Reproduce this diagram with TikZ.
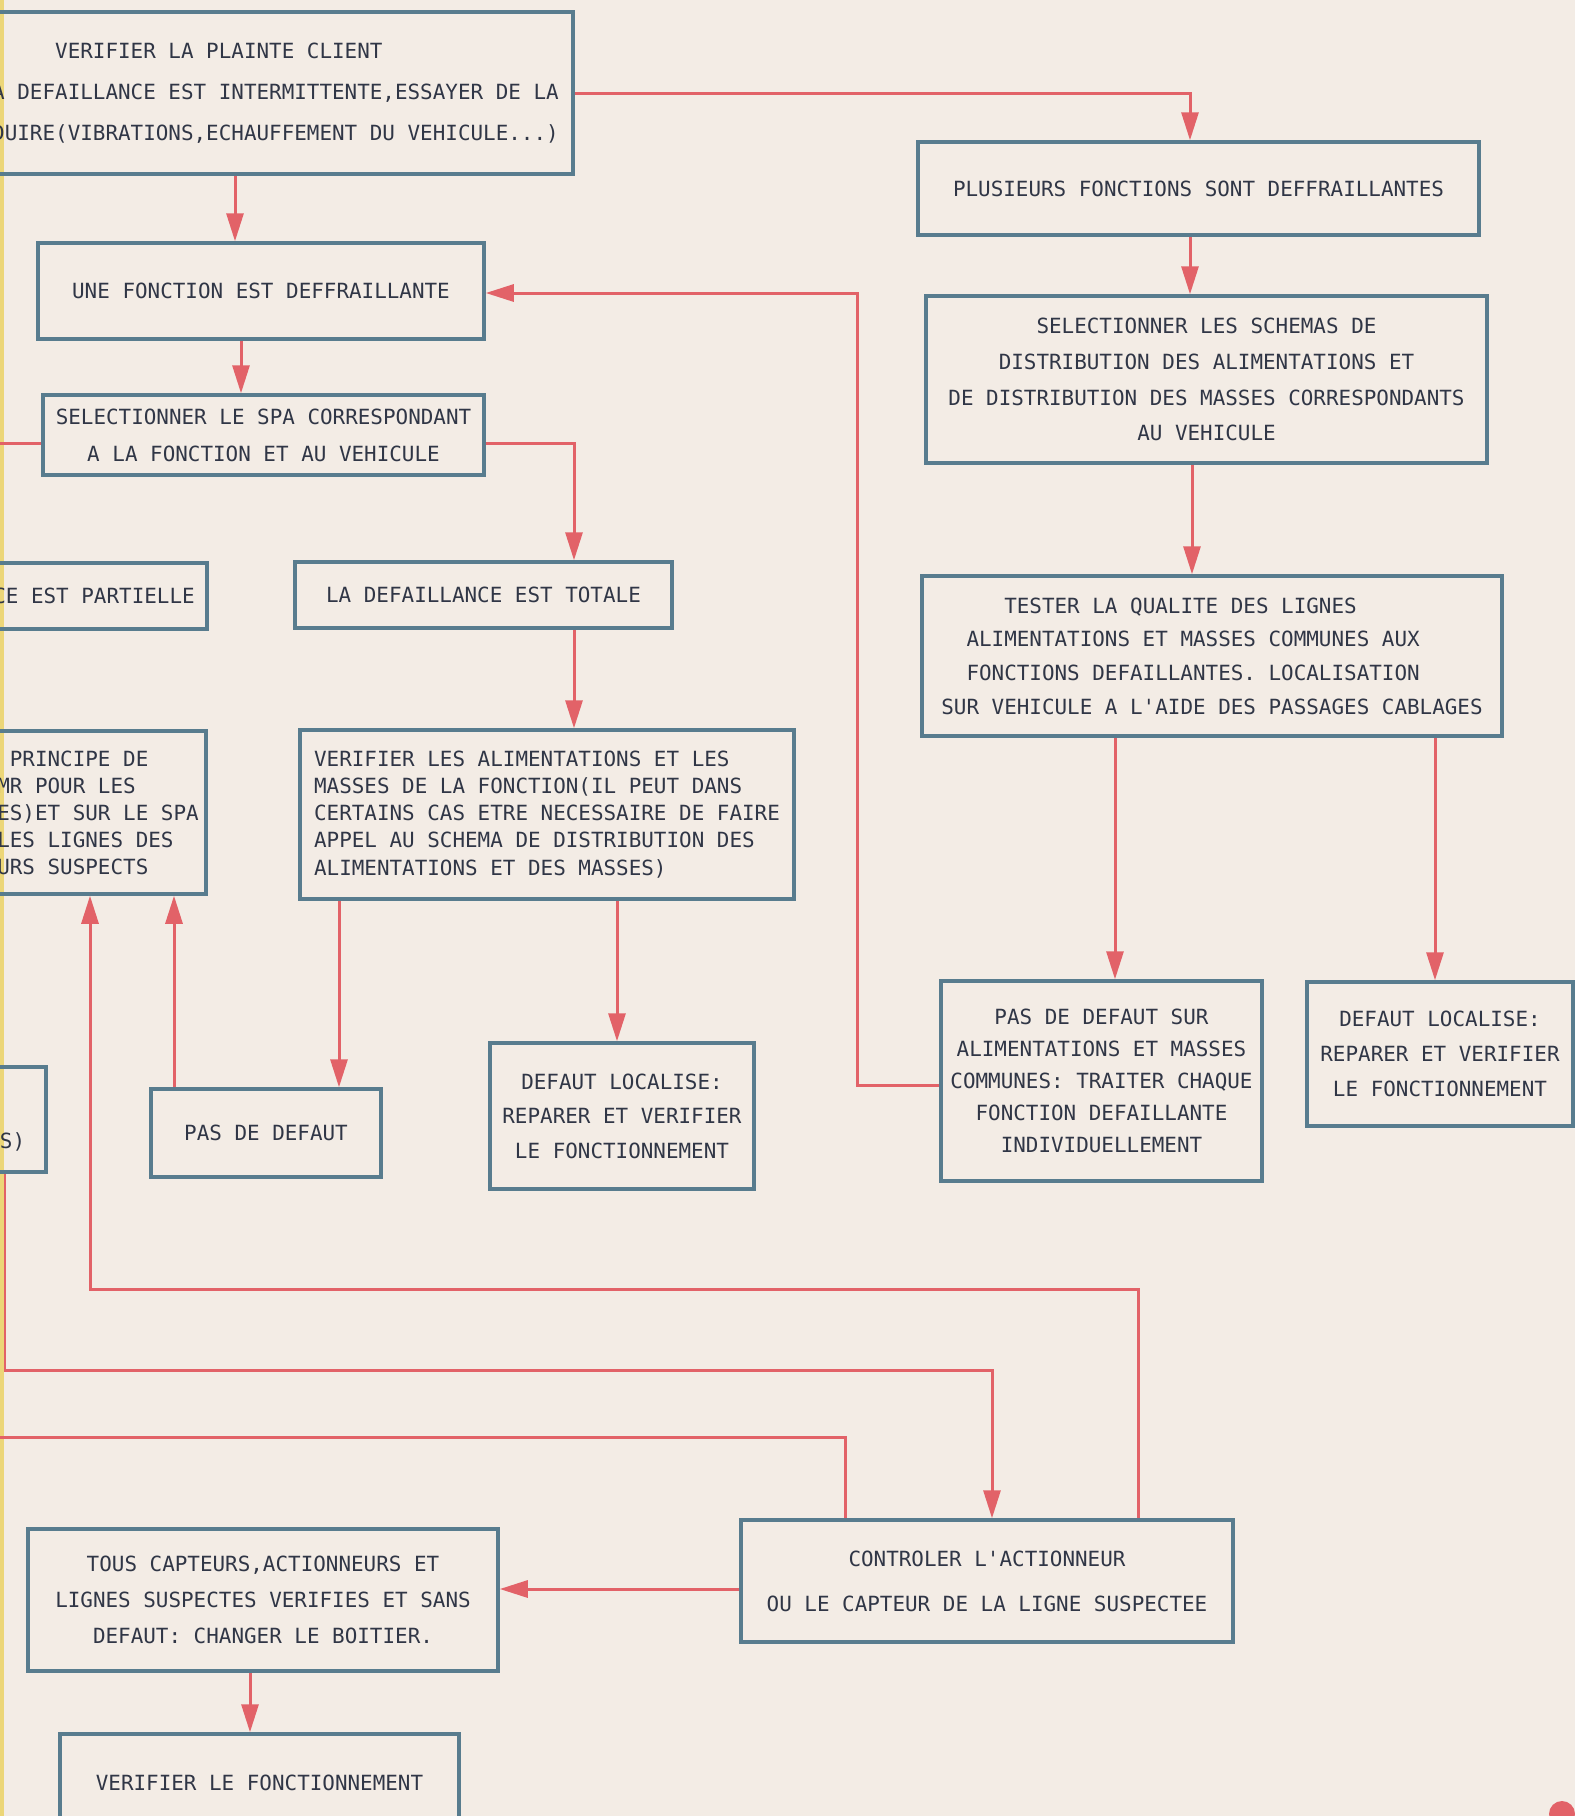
\documentclass[tikz,border=0pt]{standalone}
\usepackage{fontspec}
\newfontfamily\plotfont{DejaVu Sans Mono}
\usetikzlibrary{arrows.meta,calc}
\definecolor{papier}{RGB}{243,236,229}
\definecolor{cadrecol}{RGB}{88,124,142}
\definecolor{encre}{RGB}{48,54,70}
\definecolor{rouge}{RGB}{226,98,104}
\definecolor{bord}{RGB}{236,214,120}

\begin{document}
\begin{tikzpicture}[x=.1mm,y=-.1mm,
  cadre/.style={draw=cadrecol,line width=.35mm,text=encre,inner sep=0pt},
  taille/.style 2 args={minimum width=#1*.1mm,minimum height=#2*.1mm},
  interligne/.style={font=\plotfont\fontsize{5.95}{#1}\selectfont},
  trait/.style={draw=rouge,line width=.3mm},
  fleche/.style={trait,-{Triangle[length=2.8mm,width=1.7mm]}}]
\useasboundingbox (0,0) rectangle (1575,1816);
\fill[papier] (0,0) rectangle (1575,1816);
\clip (0,0) rectangle (1575,1816);
\fill[bord] (0,0) rectangle (4,1816); % bord de la feuille

% colonne de gauche
\node[cadre,taille={595}{162},interligne=11.7,align=left] (plainte) at (275.5,93)
  {\phantom{XXXXX}VERIFIER LA PLAINTE CLIENT\\A DEFAILLANCE EST INTERMITTENTE,ESSAYER DE LA\\DUIRE(VIBRATIONS,ECHAUFFEMENT DU VEHICULE...)};
\node[cadre,taille={446}{96},interligne=10] (une) at (261,291) {UNE FONCTION EST DEFFRAILLANTE};
\node[cadre,taille={441}{80},interligne=10.5,align=center] (spa) at (263.5,435)
  {SELECTIONNER LE SPA CORRESPONDANT\\A LA FONCTION ET AU VEHICULE};
\node[cadre,taille={226}{66},interligne=10] (partielle) at (94,596) {CE EST PARTIELLE};
\node[cadre,taille={377}{66},interligne=10] (totale) at (483.5,595) {LA DEFAILLANCE EST TOTALE};
\node[cadre,taille={216}{163},interligne=7.7,align=left] (principe) at (98,812.5)
  {\phantom{X}PRINCIPE DE\\MR POUR LES\\ES)ET SUR LE SPA\\LES LIGNES DES\\URS SUSPECTS};
\node[cadre,taille={494}{169},interligne=7.7,align=left] (alim) at (547,814.5)
  {VERIFIER LES ALIMENTATIONS ET LES\\MASSES DE LA FONCTION(IL PEUT DANS\\CERTAINS CAS ETRE NECESSAIRE DE FAIRE\\APPEL AU SCHEMA DE DISTRIBUTION DES\\ALIMENTATIONS ET DES MASSES)};
\node[cadre,taille={67}{105},interligne=10,align=left] (capteurs) at (12.5,1119.5) {\strut\\S)};
\node[cadre,taille={230}{88},interligne=10] (pasdefaut) at (266,1133) {PAS DE DEFAUT};
\node[cadre,taille={264}{146},interligne=9.8,align=center] (local) at (622,1116)
  {DEFAUT LOCALISE:\\REPARER ET VERIFIER\\LE FONCTIONNEMENT};
\node[cadre,taille={470}{142},interligne=10.2,align=center] (tous) at (263,1600)
  {TOUS CAPTEURS,ACTIONNEURS ET\\LIGNES SUSPECTES VERIFIES ET SANS\\DEFAUT: CHANGER LE BOITIER.};
\node[cadre,taille={399}{98},interligne=10] (verif) at (259.5,1783) {VERIFIER LE FONCTIONNEMENT};

% colonne de droite
\node[cadre,taille={561}{93},interligne=10] (plusieurs) at (1198.5,188.5) {PLUSIEURS FONCTIONS SONT DEFFRAILLANTES};
\node[cadre,taille={561}{167},interligne=10.2,align=center] (schemas) at (1206.5,379.5)
  {SELECTIONNER LES SCHEMAS DE\\DISTRIBUTION DES ALIMENTATIONS ET\\DE DISTRIBUTION DES MASSES CORRESPONDANTS\\AU VEHICULE};
\node[cadre,taille={580}{160},interligne=9.6,align=left] (tester) at (1212,656)
  {\phantom{XXXXX}TESTER LA QUALITE DES LIGNES\\\phantom{XX}ALIMENTATIONS ET MASSES COMMUNES AUX\\\phantom{XX}FONCTIONS DEFAILLANTES. LOCALISATION\\SUR VEHICULE A L'AIDE DES PASSAGES CABLAGES};
\node[cadre,taille={321}{200},interligne=9.1,align=center] (pasdefsur) at (1101.5,1081)
  {PAS DE DEFAUT SUR\\ALIMENTATIONS ET MASSES\\COMMUNES: TRAITER CHAQUE\\FONCTION DEFAILLANTE\\INDIVIDUELLEMENT};
\node[cadre,taille={266}{144},interligne=10,align=center] (local2) at (1440,1054)
  {DEFAUT LOCALISE:\\REPARER ET VERIFIER\\LE FONCTIONNEMENT};
\node[cadre,taille={492}{122},interligne=12.8,align=center] (controler) at (987,1581)
  {CONTROLER L'ACTIONNEUR\\OU LE CAPTEUR DE LA LIGNE SUSPECTEE};

% points de passage
\coordinate (bordA) at (-10,443);
\coordinate (bordB) at (-10,1437);
\coordinate (coinA) at (1138,1289);
\coordinate (coinB) at (90,1289);
\coordinate (coinC) at (5,1370);
\coordinate (coinD) at (992,1370);
\coordinate (coinE) at (857,1085);
\coordinate (coinF) at (857,293);

% fleches verticales
\foreach \x/\a/\b in {235/plainte/une, 241/une/spa, 574/totale/alim, 339/alim/pasdefaut,
  617/alim/local, 250/tous/verif, 1190/plusieurs/schemas, 1192/schemas/tester,
  1115/tester/pasdefsur, 1435/tester/local2}
  \draw[fleche] (\x,0 |- \a.south) -- (\x,0 |- \b.north);
\draw[fleche] (174,0 |- pasdefaut.north) -- (174,0 |- principe.south);

\draw[fleche] (plainte.east) -| (1190,0 |- plusieurs.north);
\draw[fleche] (spa.east |- bordA) -| (574,0 |- totale.north);
\draw[trait] (spa.west |- bordA) -- (bordA);
\draw[fleche] (coinE -| pasdefsur.west) -- (coinE) -- (coinF) -- (coinF -| une.east);
\draw[fleche] (coinA |- controler.north) -- (coinA) -- (coinB) -- (coinB |- principe.south);
\draw[fleche] (coinC |- capteurs.south) -- (coinC) -- (coinD) -- (coinD |- controler.north);
\draw[trait] (845,0 |- controler.north) -- (845,0 |- bordB) -- (bordB);
\draw[fleche] (controler.west |- 0,1589) -- (tous.east |- 0,1589);

\fill[rouge] (1562,1814) circle (13);
\end{tikzpicture}
\end{document}
